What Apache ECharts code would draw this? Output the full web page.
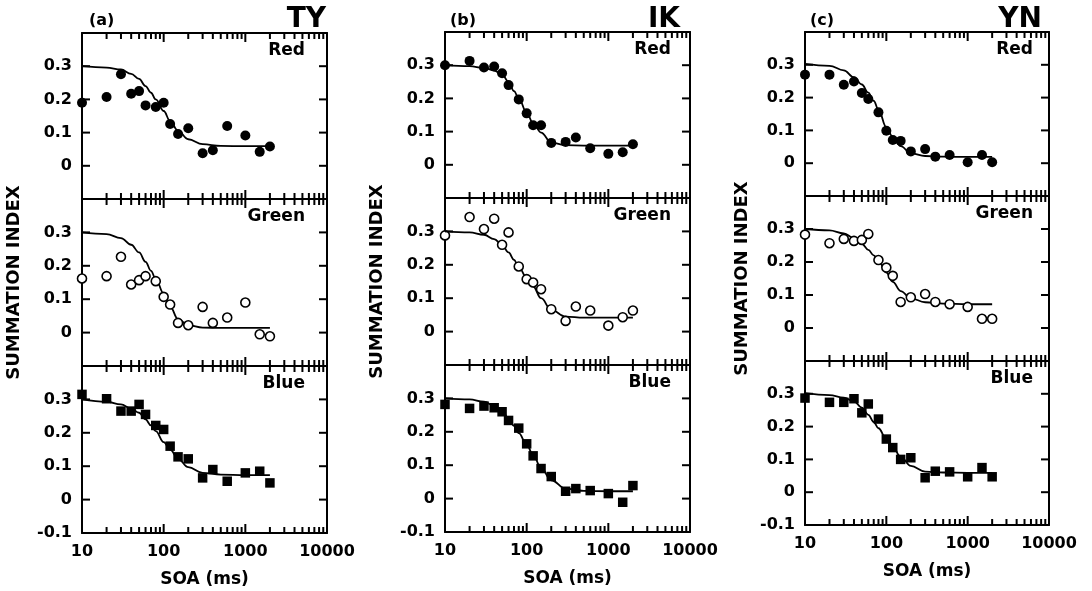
<!DOCTYPE html>
<html>
<head>
<meta charset="utf-8">
<script src="https://cdn.jsdelivr.net/npm/echarts@6.0.0/dist/echarts.min.js"></script>
<style>html,body{margin:0;padding:0;background:#fff;}#chart{width:1092px;height:591px;}</style>
</head>
<body>
<div id="chart"></div>
<script>
// ---------- data ----------
const soa = [10,20,30,40,50,60,80,100,120,150,200,300,400,600,1000,1500,2000];
const fitSoa = [10,20,30,40,50,60,70,80,100,120,150,200,300,500,1000,2000];

const tyRed   = [0.19,0.207,0.276,0.217,0.225,0.182,0.177,0.19,0.126,0.096,0.113,0.038,0.047,0.12,0.091,0.042,0.058];
const tyGreen = [0.162,0.169,0.227,0.144,0.157,0.169,0.154,0.107,0.084,0.029,0.022,0.077,0.029,0.045,0.09,-0.005,-0.011];
const tyBlue  = [0.315,0.302,0.265,0.265,0.285,0.255,0.222,0.21,0.16,0.128,0.122,0.065,0.09,0.055,0.08,0.085,0.05];
const ikRed   = [0.30,0.313,0.293,0.296,0.276,0.24,0.197,0.155,0.119,0.119,0.066,0.069,0.082,0.05,0.033,0.038,0.062];
const ikGreen = [0.288,0.343,0.307,0.338,0.26,0.297,0.195,0.157,0.147,0.127,0.067,0.032,0.075,0.063,0.018,0.043,0.063];
const ikBlue  = [0.282,0.27,0.277,0.272,0.26,0.234,0.211,0.164,0.128,0.09,0.066,0.022,0.03,0.024,0.015,-0.011,0.039];
const ynRed   = [0.27,0.27,0.239,0.249,0.214,0.196,0.155,0.099,0.071,0.068,0.036,0.043,0.02,0.025,0.003,0.025,0.003];
const ynGreen = [0.283,0.257,0.27,0.264,0.267,0.285,0.206,0.183,0.158,0.079,0.093,0.103,0.079,0.072,0.064,0.028,0.028];
const ynBlue  = [0.287,0.274,0.274,0.285,0.242,0.269,0.223,0.162,0.136,0.10,0.105,0.044,0.064,0.062,0.047,0.075,0.047];

const tyRedFit   = [0.30,0.296,0.29,0.277,0.262,0.24,0.22,0.20,0.165,0.135,0.105,0.08,0.065,0.06,0.059,0.059];
const tyGreenFit = [0.30,0.295,0.283,0.263,0.24,0.212,0.185,0.16,0.117,0.078,0.04,0.022,0.015,0.014,0.014,0.014];
const tyBlueFit  = [0.30,0.293,0.285,0.273,0.26,0.24,0.222,0.205,0.172,0.15,0.122,0.097,0.08,0.075,0.073,0.073];
const ikRedFit   = [0.30,0.297,0.292,0.284,0.272,0.25,0.222,0.20,0.157,0.125,0.097,0.067,0.059,0.058,0.058,0.058];
const ikGreenFit = [0.30,0.297,0.29,0.277,0.26,0.237,0.215,0.193,0.162,0.135,0.10,0.065,0.045,0.042,0.042,0.042];
const ikBlueFit  = [0.30,0.297,0.29,0.278,0.262,0.24,0.218,0.196,0.162,0.13,0.092,0.055,0.03,0.023,0.022,0.022];
const ynRedFit   = [0.303,0.297,0.283,0.262,0.24,0.215,0.19,0.163,0.11,0.08,0.052,0.03,0.022,0.02,0.019,0.019];
const ynGreenFit = [0.30,0.296,0.287,0.272,0.255,0.237,0.22,0.204,0.168,0.14,0.112,0.09,0.078,0.074,0.072,0.072];
const ynBlueFit  = [0.302,0.296,0.288,0.277,0.258,0.236,0.214,0.195,0.162,0.138,0.108,0.08,0.063,0.06,0.059,0.059];

const subjects = ['TY','IK','YN'];
const panelLetters = ['(a)','(b)','(c)'];
const colorNames = ['Red','Green','Blue'];
const xTickValues = [10,100,1000,10000];
const xTickLabels = ['10','100','1000','10000'];
const yTickValues = [-0.1,0,0.1,0.2,0.3,0.4];
const yTickLabels = ['-0.1','0','0.1','0.2','0.3',''];
const minorTicks = [20,30,40,50,60,70,80,90,200,300,400,500,600,700,800,900,2000,3000,4000,5000,6000,7000,8000,9000];
const xAxisTitle = 'SOA (ms)';
const yAxisTitle = 'SUMMATION INDEX';

const pointData = [[tyRed,tyGreen,tyBlue],[ikRed,ikGreen,ikBlue],[ynRed,ynGreen,ynBlue]];
const fitData = [[tyRedFit,tyGreenFit,tyBlueFit],[ikRedFit,ikGreenFit,ikBlueFit],[ynRedFit,ynGreenFit,ynBlueFit]];

// ---------- layout ----------
const FONT = 'DejaVu Sans';
const colLeft = [82, 445, 805];
const colWidth = [245, 245, 244];
const rowEdges = [[33,199,366,533],[32,198,365,532],[32,196,361,525]];
const labelRightInset = [22, 19, 16];
const subjRight = [326, 680, 1042];
const letterLeft = [89, 450, 810];
const yNameGap = [59, 59, 54];
const MAJOR_LEN = 9, MINOR_LEN = 6, Y_TICK_LEN = 8, TICK_W = 2;

const grids = [], xAxes = [], yAxes = [], series = [], titles = [];
const axisLineStyle = {color:'#000', width:2};

function fmtX(v){
  for (let i=0;i<xTickValues.length;i++) if (Math.abs(v - xTickValues[i]) / xTickValues[i] < 1e-6) return xTickLabels[i];
  return '';
}
function fmtY(v, showNeg){
  for (let i=0;i<yTickValues.length;i++) if (Math.abs(v - yTickValues[i]) < 1e-6) {
    if (yTickValues[i] < 0 && !showNeg) return '';
    return yTickLabels[i];
  }
  return '';
}

// inward x ticks on the top and bottom edges of a grid
function xTickSeries(xi, yi, values, len){
  return {
    type:'custom', xAxisIndex:xi, yAxisIndex:yi, silent:true, clip:false, z:6,
    encode:{x:0, y:1},
    data: values.map(v=>[v, 0.15]),
    renderItem:function(params, api){
      const cs = params.coordSys;
      const px = api.coord([api.value(0), 0.15])[0];
      return {type:'group', children:[
        {type:'rect', shape:{x:px - TICK_W/2, y:cs.y + cs.height - len, width:TICK_W, height:len}, style:{fill:'#000'}},
        {type:'rect', shape:{x:px - TICK_W/2, y:cs.y, width:TICK_W, height:len}, style:{fill:'#000'}}
      ]};
    }
  };
}
// inward y ticks on the left and right edges
function yTickSeries(xi, yi){
  return {
    type:'custom', xAxisIndex:xi, yAxisIndex:yi, silent:true, clip:false, z:6,
    encode:{x:0, y:1},
    data: yTickValues.map(v=>[100, v]),
    renderItem:function(params, api){
      const cs = params.coordSys;
      const py = api.coord([100, api.value(1)])[1];
      return {type:'group', children:[
        {type:'rect', shape:{x:cs.x, y:py - TICK_W/2, width:Y_TICK_LEN, height:TICK_W}, style:{fill:'#000'}},
        {type:'rect', shape:{x:cs.x + cs.width - Y_TICK_LEN, y:py - TICK_W/2, width:Y_TICK_LEN, height:TICK_W}, style:{fill:'#000'}}
      ]};
    }
  };
}

for (let c=0;c<3;c++){
  for (let r=0;r<3;r++){
    const g = c*3 + r;
    const top = rowEdges[c][r];
    const h = rowEdges[c][r+1] - top;
    grids.push({left: colLeft[c], top: top, width: colWidth[c], height: h, containLabel:false});
    const isBottom = r === 2;
    const xBase = {
      gridIndex: g, type:'log', logBase:10, min:10, max:10000,
      axisLine:{show:true, onZero:false, lineStyle:axisLineStyle},
      axisTick:{show:false},
      splitLine:{show:false}, minorTick:{show:false}, minorSplitLine:{show:false}
    };
    xAxes.push(Object.assign({}, xBase, {
      position:'bottom',
      axisLabel:{show:isBottom, margin:11, color:'#000', fontFamily:FONT, fontWeight:'bold', fontSize:16, formatter:fmtX, showMinLabel:true, showMaxLabel:true},
      name: isBottom ? xAxisTitle : '', nameLocation:'middle', nameGap:38,
      nameTextStyle:{color:'#000', fontFamily:FONT, fontWeight:'bold', fontSize:17}
    }));
    xAxes.push(Object.assign({}, xBase, {position:'top', axisLabel:{show:false}}));
    const yBase = {
      gridIndex: g, type:'value', min:-0.1, max:0.4, interval:0.1,
      axisLine:{show:true, onZero:false, lineStyle:axisLineStyle},
      axisTick:{show:false},
      splitLine:{show:false}
    };
    yAxes.push(Object.assign({}, yBase, {
      position:'left',
      axisLabel:{show:true, margin:10, color:'#000', fontFamily:FONT, fontWeight:'bold', fontSize:16,
        formatter:(v)=>fmtY(v, isBottom)},
      name: r===1 ? yAxisTitle : '', nameLocation:'middle', nameRotate:90, nameGap:yNameGap[c],
      nameTextStyle:{color:'#000', fontFamily:FONT, fontWeight:'bold', fontSize:18}
    }));
    yAxes.push(Object.assign({}, yBase, {position:'right', axisLabel:{show:false}}));

    const xi = g*2, yi = g*2;
    series.push(xTickSeries(xi, yi, xTickValues, MAJOR_LEN));
    series.push(xTickSeries(xi, yi, minorTicks, MINOR_LEN));
    series.push(yTickSeries(xi, yi));
    // fitted curve
    series.push({
      type:'line', xAxisIndex:xi, yAxisIndex:yi, silent:true,
      data: fitSoa.map((x,i)=>[x, fitData[c][r][i]]),
      smooth:0.4, smoothMonotone:'x', showSymbol:false, symbol:'none',
      lineStyle:{color:'#000', width:1.8}, z:2
    });
    // data points
    const sym = r===2 ? 'rect' : 'circle';
    series.push({
      type:'scatter', xAxisIndex:xi, yAxisIndex:yi, silent:true,
      data: soa.map((x,i)=>[x, pointData[c][r][i]]),
      symbol: sym, symbolSize: r===1 ? 9 : (r===0 ? 10 : 9.5),
      itemStyle: r===1 ? {color:'#fff', borderColor:'#000', borderWidth:1.6, opacity:1}
                       : {color:'#000', opacity:1},
      z:3
    });
    // colour label
    titles.push({
      text: colorNames[r], right: 1092 - (colLeft[c] + colWidth[c]) + labelRightInset[c], top: top + 9,
      padding:0, textStyle:{color:'#000', fontFamily:FONT, fontWeight:'bold', fontSize:17}
    });
  }
  titles.push({text: panelLetters[c], left: letterLeft[c], top: 13, padding:0,
    textStyle:{color:'#000', fontFamily:FONT, fontWeight:'bold', fontSize:16}});
  titles.push({text: subjects[c], right: 1092 - subjRight[c], top: 6, padding:0,
    textStyle:{color:'#000', fontFamily:FONT, fontWeight:'bold', fontSize:28}});
}

const chart = echarts.init(document.getElementById('chart'), null, {renderer:'canvas'});
chart.setOption({
  animation:false,
  backgroundColor:'#fff',
  title: titles,
  grid: grids,
  xAxis: xAxes,
  yAxis: yAxes,
  series: series
});
</script>
</body>
</html>
